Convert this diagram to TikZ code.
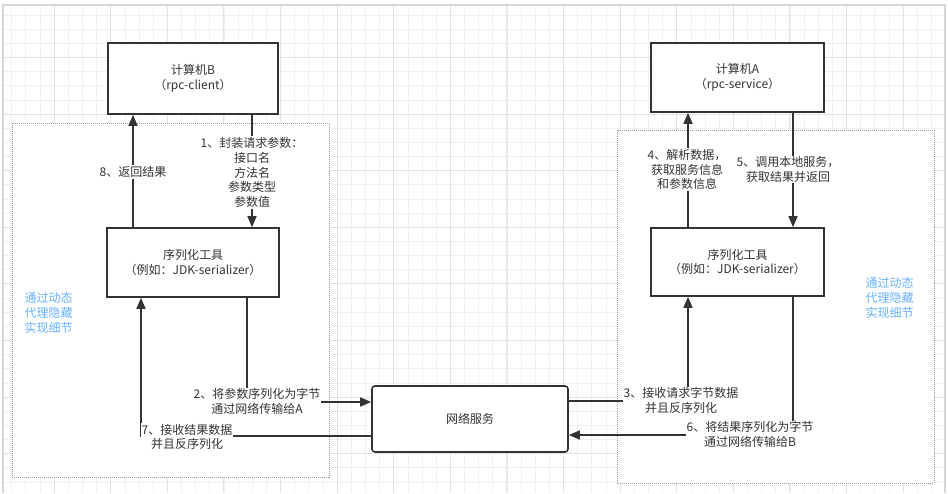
\documentclass[tikz,border=0pt]{standalone}
\usepackage{fontspec}
\setmainfont{Noto Sans CJK SC}
\usepackage{tikz}
\usetikzlibrary{arrows.meta}

\definecolor{inkgray}{HTML}{333333}
\definecolor{hintblue}{HTML}{66B2FF}
\definecolor{gridminor}{HTML}{F0F0F0}
\definecolor{gridmajor}{HTML}{E2E2E2}
\definecolor{framegray}{HTML}{D6D6D6}
\definecolor{dotgray}{HTML}{9A9A9A}

\begin{document}
\begin{tikzpicture}[x=1pt, y=-1pt,
    font=\fontsize{12}{14.75}\selectfont,
    box/.style={draw=inkgray, line width=1.6pt, fill=white, text=inkgray, align=center},
    flow/.style={draw=inkgray, line width=1.6pt, -{Triangle[length=11pt,width=9pt]}},
    lbl/.style={fill=white, text=inkgray, align=center, inner sep=1pt},
    hint/.style={text=hintblue, align=left, inner sep=0pt},
    zone/.style={draw=dotgray, line width=0.8pt, dash pattern=on 1pt off 1pt, fill=white}]
    \useasboundingbox (0,0) rectangle (948,493);

    % Background grid
    \foreach \i in {0,...,66}
        \draw[gridminor, line width=0.8pt] ({11.7+14.15*\i},5) -- ++(0,488);
    \foreach \i in {0,...,34}
        \draw[gridminor, line width=0.8pt] (3,{15+14.15*\i}) -- (945,{15+14.15*\i});
    \foreach \i in {0,...,15}
        \draw[gridmajor, line width=0.8pt] ({54+56.6*\i},5) -- ++(0,488);
    \foreach \i in {1,...,8}
        \draw[gridmajor, line width=0.8pt] (3,{0.7+56.6*\i}) -- (945,{0.7+56.6*\i});
    \draw[framegray, line width=2pt] (3,493) -- (3,5) -- (945,5) -- (945,493);

    % Proxy zones
    \draw[zone] (12,123) rectangle (329,477);
    \draw[zone] (617,130) rectangle (934,483);

    % Client side (B)
    \node[box, minimum width=170pt, minimum height=71pt] (compB) at (193,78.5) {计算机B\\（rpc-client）};
    \node[box, minimum width=172pt, minimum height=69pt] (serB) at (193,262.5) {序列化工具\\（例如：JDK-serializer）};

    % Service side (A)
    \node[box, minimum width=173pt, minimum height=69pt] (compA) at (737.5,77.5) {计算机A\\（rpc-service）};
    \node[box, minimum width=173pt, minimum height=68pt] (serA) at (737.5,262) {序列化工具\\（例如：JDK-serializer）};

    % Network
    \node[box, rounded corners=3pt, minimum width=196pt, minimum height=66pt] (net) at (470,419) {网络服务};

    % Connectors
    \draw[flow] ([xshift=-60pt]serB.north) -- ([xshift=-60pt]compB.south);
    \draw[flow] ([xshift=59pt]compB.south) -- ([xshift=59pt]serB.north);
    \draw[flow] ([xshift=54pt]serB.south) |- ([yshift=17pt]net.west);
    \draw[flow] ([yshift=-17pt]net.west) -| ([xshift=-52pt]serB.south);
    \draw[flow] ([yshift=18pt]net.east) -| ([xshift=-49.5pt]serA.south);
    \draw[flow] ([xshift=-49.5pt]serA.north) -- ([xshift=-49.5pt]compA.south);
    \draw[flow] ([xshift=55.5pt]compA.south) -- ([xshift=55.5pt]serA.north);
    \draw[flow] ([xshift=55.5pt]serA.south) |- ([yshift=-16pt]net.east);

    % Step labels
    \node[lbl] (step1) at (252,172.5) {1、封装请求参数：\\接口名\\方法名\\参数类型\\参数值};
    \node[lbl] (step2) at (257,401.5) {2、将参数序列化为字节\\通过网络传输给A};
    \node[lbl] (step3) at (681,400.5) {3、接收请求字节数据\\并且反序列化};
    \node[lbl] (step4) at (687,169.5) {4、解析数据，\\获取服务信息\\和参数信息};
    \node[lbl] (step5) at (788,169.5) {5、调用本地服务，\\获取结果并返回};
    \node[lbl] (step6) at (750,434.5) {6、将结果序列化为字节\\通过网络传输给B};
    \node[lbl] (step7) at (187,437) {7、接收结果数据\\并且反序列化};
    \node[lbl] (step8) at (133,172) {8、返回结果};

    % Hints
    \node[hint] (hintB) at (48.5,313) {通过动态\\代理隐藏\\实现细节};
    \node[hint] (hintA) at (889.5,298) {通过动态\\代理隐藏\\实现细节};
\end{tikzpicture}
\end{document}
